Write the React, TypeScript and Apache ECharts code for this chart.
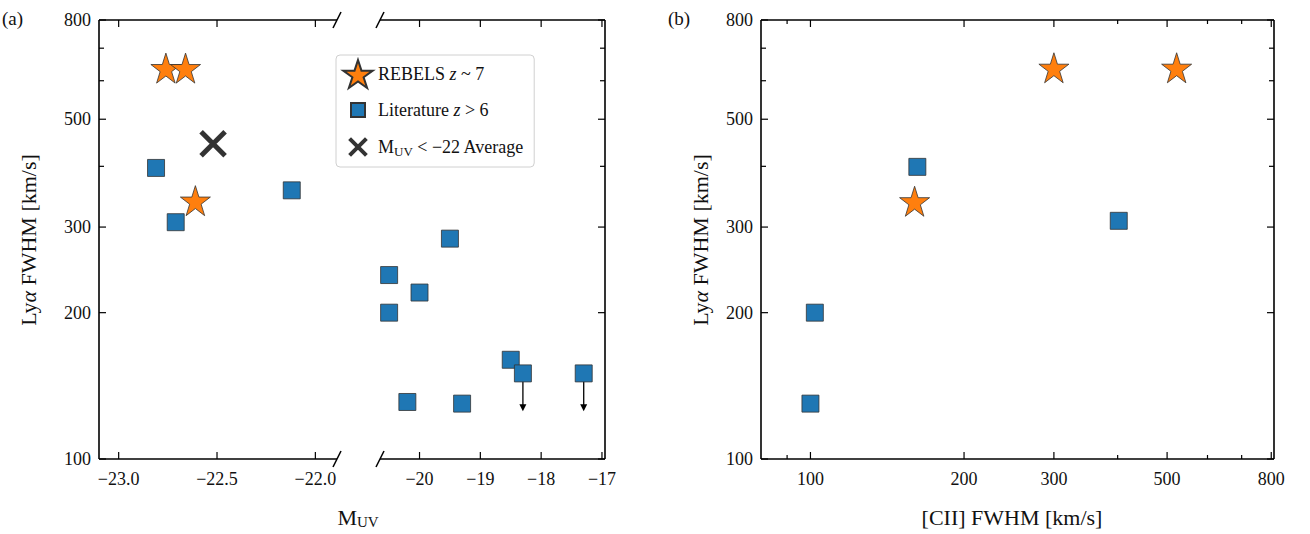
import React, { useEffect, useRef } from "react";
import * as echarts from "echarts";

// panel (a): M_UV vs Lya FWHM
const rebelsA: number[][] = [[-22.76, 637], [-22.66, 637], [-22.61, 340]];
const averageA: number[][] = [[-22.52, 445]];
const litBright: number[][] = [[-22.81, 397], [-22.71, 307], [-22.12, 357]];
const litFaint: number[][] = [
  [-20.5, 239], [-20.5, 200], [-20.0, 220], [-19.5, 284], [-20.2, 131],
  [-19.3, 130], [-18.5, 160], [-18.3, 150], [-17.3, 150],
];
const upperLimits: number[][] = [[-18.3, 150, 126], [-17.3, 150, 126]];

// panel (b): [CII] FWHM vs Lya FWHM
const rebelsB: number[][] = [[300, 638], [522, 638], [160, 339]];
const litB: number[][] = [[162, 399], [102, 200], [100, 130], [402, 309]];

const yTicks = [200, 300, 400, 500, 600, 700];
const yLabels = [100, 200, 300, 500, 800];
const xTicksLeft = [-23.0, -22.5, -22.0];
const xTicksRight = [-20, -19, -18, -17];
const xTicksB = [90, 100, 200, 300, 400, 500, 600, 700, 800];
const xLabelsB = [100, 200, 300, 500, 800];

const FONT = "Liberation Serif";
const STAR = "path://M50,0L61.8,36.2L100,36.2L69.1,58.8L80.9,95.1L50,72.6L19.1,95.1L30.9,58.8L0,36.2L38.2,36.2Z";
const CROSS = "path://M0,0L10,10M10,0L0,10";
// legend icons padded so they draw smaller than the star
const SQ_ICON = "path://M0,0L0,0M5,5L15,5L15,15L5,15ZM20,20L20,20";
const X_ICON = "path://M0,0L0,0M4,4L16,16M16,4L4,16M20,20L20,20";

const App: React.FC = () => {
  const ref = useRef<HTMLDivElement>(null);

  useEffect(() => {
    if (!ref.current) return;
    document.body.style.margin = "0";
    const chart = echarts.init(ref.current, null, { renderer: "svg" });
    const top = 20, bottom = 75;
    const grids = [
      { left: 99, width: 238, top, bottom },
      { left: 380, width: 225, top, bottom },
      { left: 761, width: 513, top, bottom },
    ];
    const yAx = (i: number) => ({
      type: "log", gridIndex: i, min: 100, max: 800, logBase: 10,
      axisLabel: { show: false }, axisTick: { show: false }, axisLine: { show: false }, splitLine: { show: false },
    });
    const xAx = (i: number, type: string, min: number, max: number) => ({
      type, gridIndex: i, min, max,
      axisLabel: { show: false }, axisTick: { show: false }, axisLine: { show: false }, splitLine: { show: false },
    });
    const star = (name: string, data: number[][], i: number) => ({
      name, type: "scatter", xAxisIndex: i, yAxisIndex: i, data, symbol: STAR, symbolSize: 30, z: 5,
      itemStyle: { color: "#ff7f0e", borderColor: "#333", borderWidth: 0.8, opacity: 1 },
    });
    const square = (name: string, data: number[][], i: number) => ({
      name, type: "scatter", xAxisIndex: i, yAxisIndex: i, data, symbol: "rect", symbolSize: 17, z: 4,
      itemStyle: { color: "#1f77b4", borderColor: "#333", borderWidth: 0.8, opacity: 1 },
    });
    chart.setOption({
      animation: false,
      textStyle: { fontFamily: FONT },
      grid: grids,
      xAxis: [xAx(0, "value", -23.1, -21.89), xAx(1, "value", -20.65, -16.95), xAx(2, "log", 80, 810)],
      yAxis: [yAx(0), yAx(1), yAx(2)],
      legend: {
        left: 336, top: 55, orient: "vertical", itemGap: 6, itemWidth: 30, itemHeight: 28,
        backgroundColor: "#fff", borderColor: "#d0d0d0", borderWidth: 1, borderRadius: 4, padding: [4, 10, 4, 6],
        data: [
          { name: "REBELS" },
          { name: "Literature", icon: SQ_ICON },
          { name: "Average", icon: X_ICON, itemStyle: { color: "#000", borderColor: "#000", borderWidth: 4 } },
        ],
        formatter: (n: string) =>
          n === "REBELS" ? "REBELS {i|z} ~ 7" : n === "Literature" ? "Literature {i|z} > 6" : "M{s|UV} < −22 Average",
        textStyle: {
          fontFamily: FONT, fontSize: 18, color: "#111",
          rich: { i: { fontStyle: "italic", fontFamily: FONT, fontSize: 18 }, s: { fontSize: 13, fontFamily: FONT, verticalAlign: "bottom", padding: [8, 0, 0, 0] } },
        },
      },
      series: [
        star("REBELS", rebelsA, 0),
        square("Literature", litBright, 0),
        {
          name: "Average", type: "scatter", xAxisIndex: 0, yAxisIndex: 0, data: averageA, symbol: CROSS, symbolSize: 24, z: 6,
          itemStyle: { color: "#000", borderColor: "#000", borderWidth: 5 },
        },
        square("Literature", litFaint, 1),
        {
          type: "custom", xAxisIndex: 1, yAxisIndex: 1, data: upperLimits, z: 3,
          renderItem: (_p: any, api: any) => {
            const a = api.coord([api.value(0), api.value(1)]);
            const b = api.coord([api.value(0), api.value(2)]);
            return {
              type: "group",
              children: [
                { type: "line", shape: { x1: a[0], y1: a[1], x2: b[0], y2: b[1] - 4 }, style: { stroke: "#000", lineWidth: 1.3 } },
                { type: "polygon", shape: { points: [[b[0] - 3.5, b[1] - 6], [b[0] + 3.5, b[1] - 6], [b[0], b[1] + 1]] }, style: { fill: "#000" } },
              ],
            };
          },
        },
        star("REBELS", rebelsB, 2),
        square("Literature", litB, 2),
      ],
    });

    // frames, ticks and labels
    const g: any[] = [];
    const ln = (x1: number, y1: number, x2: number, y2: number, w = 1.6) =>
      g.push({ type: "line", shape: { x1, y1, x2, y2 }, style: { stroke: "#000", lineWidth: w }, z: 10 });
    const txt = (text: string, x: number, y: number, align = "center", size = 18, extra: any = {}) =>
      g.push({
        type: "text", x, y, z: 10,
        style: { text, fill: "#111", fontFamily: FONT, fontSize: size, align, verticalAlign: "middle", ...extra },
      });
    const px = (i: number, x: number, y: number) => chart.convertToPixel({ xAxisIndex: i, yAxisIndex: i }, [x, y]) as number[];
    const H = 534 - bottom;

    grids.forEach((gr, i) => {
      const L = gr.left, R = gr.left + gr.width;
      ln(L, top, R, top); ln(L, H, R, H);
      if (i !== 1) ln(L, top, L, H);
      if (i !== 0) ln(R, top, R, H);
      const xRef = i === 0 ? -22.5 : i === 1 ? -19 : 200;
      yTicks.concat([100, 800]).forEach((v) => {
        const y = px(i, xRef, v)[1];
        const len = yLabels.includes(v) ? 7 : 5;
        if (i !== 1) ln(L, y, L + len, y, 1.2);
        if (i !== 0) ln(R, y, R - len, y, 1.2);
      });
      if (i !== 1) yLabels.forEach((v) => txt(String(v), L - 8, px(i, xRef, v)[1], "right"));
    });
    // break marks
    [[337, top], [337, H], [380, top], [380, H]].forEach(([x, y]) => ln(x - 4, y + 8, x + 4, y - 8, 1.6));

    const xt = (i: number, vals: number[], labels: number[] | null, fmt: (v: number) => string) =>
      vals.forEach((v) => {
        const x = px(i, v, 200)[0];
        const len = !labels || labels.includes(v) ? 7 : 4;
        ln(x, H, x, H - len, 1.2); ln(x, top, x, top + len, 1.2);
        if (!labels || labels.includes(v)) txt(fmt(v), x, H + 20);
      });
    xt(0, xTicksLeft, null, (v) => "−" + Math.abs(v).toFixed(1));
    xt(1, xTicksRight, null, (v) => "−" + Math.abs(v));
    xt(2, xTicksB, xLabelsB, (v) => String(v));

    txt("(a)", 2, 18, "left", 19);
    txt("(b)", 668, 18, "left", 19);
    txt("M{s|UV}", 358, 517, "center", 22, { rich: { s: { fontFamily: FONT, fontSize: 15, padding: [10, 0, 0, 0] } } });
    txt("[CII] FWHM [km/s]", 1012, 517, "center", 22);
    [28, 700].forEach((x) =>
      g.push({
        type: "text", x, y: 240, rotation: Math.PI / 2, z: 10,
        style: {
          text: "Ly{i|α} FWHM [km/s]", fill: "#111", fontFamily: FONT, fontSize: 22, align: "center", verticalAlign: "middle",
          rich: { i: { fontFamily: FONT, fontSize: 22, fontStyle: "italic" } },
        },
      })
    );
    chart.setOption({ graphic: g });
    return () => chart.dispose();
  }, []);

  return <div ref={ref} style={{ width: 1310, height: 534 }} />;
};

export default App;
